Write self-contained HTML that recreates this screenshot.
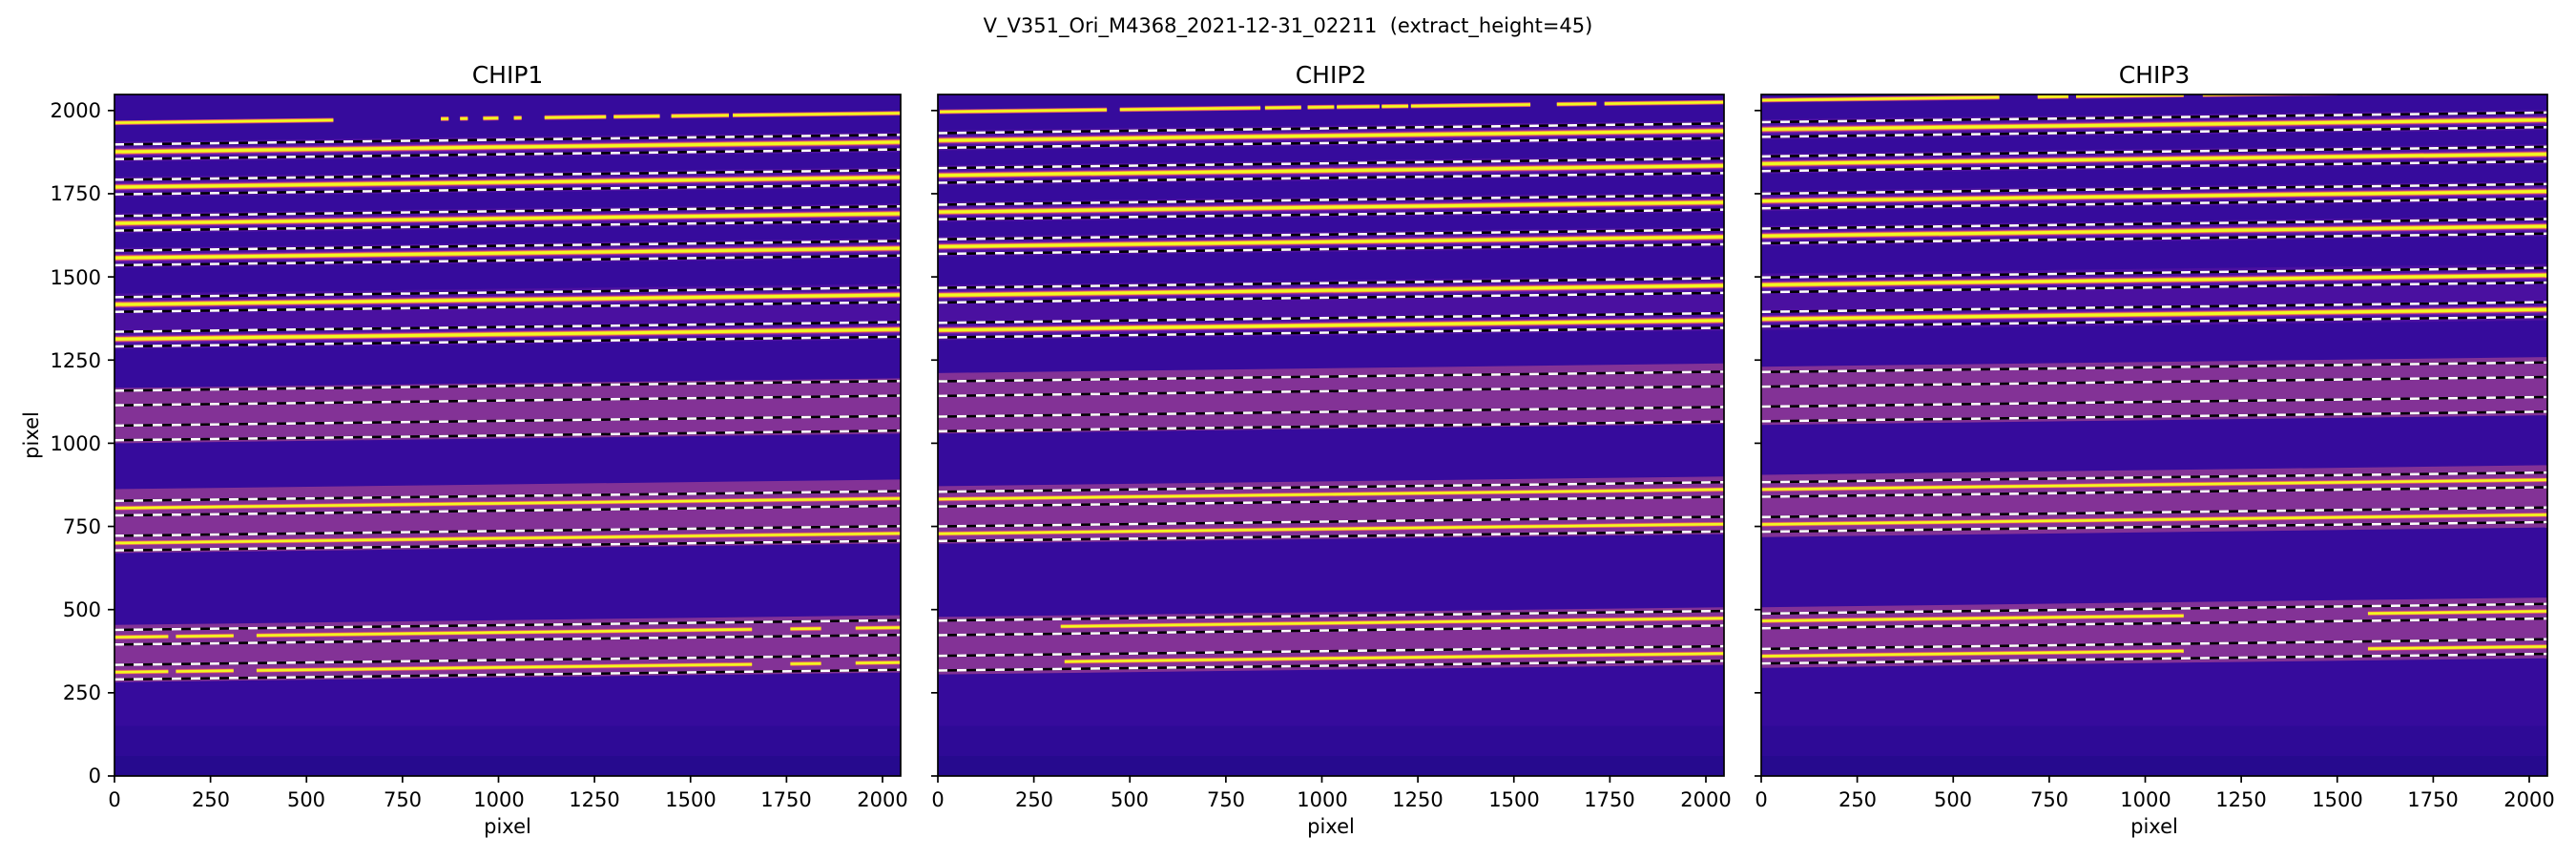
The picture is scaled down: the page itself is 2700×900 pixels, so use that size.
<!DOCTYPE html>
<html><head><meta charset="utf-8">
<style>
html,body{margin:0;padding:0;background:#fff;}
svg{display:block;}
text{font-family:"DejaVu Sans","Liberation Sans",sans-serif;fill:#000;}
</style></head>
<body>
<svg id="s" width="2700" height="900" viewBox="0 0 2700 900" xmlns="http://www.w3.org/2000/svg">
<defs>
<clipPath id="c1"><rect x="120" y="99" width="824" height="714"/></clipPath>
<clipPath id="c2"><rect x="983" y="99" width="824" height="714"/></clipPath>
<clipPath id="c3"><rect x="1846" y="99" width="824" height="714"/></clipPath>
</defs>
<g id="g1" clip-path="url(#c1)"></g>
<g id="g2" clip-path="url(#c2)"></g>
<g id="g3" clip-path="url(#c3)"></g>
<g id="axes"></g>
<text x="1350" y="34" font-size="21" text-anchor="middle" xml:space="preserve" style="white-space:pre">V_V351_Ori_M4368_2021-12-31_02211  (extract_height=45)</text>
<text x="532" y="87" font-size="25" text-anchor="middle">CHIP1</text>
<text x="1395" y="87" font-size="25" text-anchor="middle">CHIP2</text>
<text x="2258" y="87" font-size="25" text-anchor="middle">CHIP3</text>
<text x="532" y="873" font-size="21" text-anchor="middle">pixel</text>
<text x="1395" y="873" font-size="21" text-anchor="middle">pixel</text>
<text x="2258" y="873" font-size="21" text-anchor="middle">pixel</text>
<text transform="translate(40,456) rotate(-90)" font-size="21" text-anchor="middle">pixel</text>
<g font-size="21" text-anchor="end">
<text x="106" y="820">0</text>
<text x="106" y="733">250</text>
<text x="106" y="646">500</text>
<text x="106" y="559">750</text>
<text x="106" y="472">1000</text>
<text x="106" y="385">1250</text>
<text x="106" y="298">1500</text>
<text x="106" y="210">1750</text>
<text x="106" y="123">2000</text>
</g>
<g font-size="21" text-anchor="middle">
<text x="120" y="845">0</text><text x="221" y="845">250</text><text x="321" y="845">500</text><text x="422" y="845">750</text><text x="523" y="845">1000</text><text x="623" y="845">1250</text><text x="724" y="845">1500</text><text x="824" y="845">1750</text><text x="925" y="845">2000</text>
<text x="983" y="845">0</text><text x="1084" y="845">250</text><text x="1184" y="845">500</text><text x="1285" y="845">750</text><text x="1386" y="845">1000</text><text x="1486" y="845">1250</text><text x="1587" y="845">1500</text><text x="1687" y="845">1750</text><text x="1788" y="845">2000</text>
<text x="1846" y="845">0</text><text x="1947" y="845">250</text><text x="2047" y="845">500</text><text x="2148" y="845">750</text><text x="2249" y="845">1000</text><text x="2349" y="845">1250</text><text x="2450" y="845">1500</text><text x="2550" y="845">1750</text><text x="2651" y="845">2000</text>
</g>
</svg>
<script>
var NS="http://www.w3.org/2000/svg";
function el(p,n,a){var e=document.createElementNS(NS,n);for(var k in a)e.setAttribute(k,a[k]);p.appendChild(e);return e;}
var SL=29/2048;
function chip(id,left,d){
  var g=document.getElementById(id);
  function X(u){return left+u*0.4025;}
  function Y(u){return 813-u*0.3486;}
  el(g,"rect",{x:left,y:99,width:824,height:714,fill:"#360b9c"});
  el(g,"rect",{x:left,y:Y(150),width:824,height:Y(60)-Y(150),fill:"#2e0a96"});
  el(g,"rect",{x:left,y:Y(60),width:824,height:Y(0)-Y(60),fill:"#260a8e"});
  function band(lo,hi,col){
    var pts=[[0,lo],[2048,lo+29],[2048,hi+29],[0,hi]].map(function(p){return X(p[0])+","+Y(p[1]);}).join(" ");
    el(g,"polygon",{points:pts,fill:col});
  }
  function line(c,a,b,st,w){
    el(g,"line",{x1:X(a),y1:Y(c+a*SL),x2:X(b),y2:Y(c+b*SL),stroke:st,"stroke-width":w});
  }
  function trace(c,segs,w){
    segs=segs||[[0,2048]];w=w||1;
    segs.forEach(function(s){line(c,s[0],s[1],"#c03a8a",6*w);line(c,s[0],s[1],"#f89a3c",4.5*w);line(c,s[0],s[1],"#f0f921",3*w);});
  }
  function dash(c){
    line(c,0,2048,"#000",2.5);
    el(g,"line",{x1:X(0),y1:Y(c),x2:X(2048),y2:Y(c+29),stroke:"#fff","stroke-width":2.5,"stroke-dasharray":"10,10"});
  }
  d.halo.forEach(function(h){band(h[0],h[1],"#4a10a0");});
  d.boxed.forEach(function(c){band(c-30,c+30,"#4e12a2");band(c-12,c+12,"#6a1ea8");});
  d.pink.forEach(function(p){band(p[0],p[1],"#833296");});
  d.boxed.forEach(function(c){trace(c);});
  d.yel.forEach(function(t){trace(t[0],t[1],0.8);});
  trace(d.top[0],d.top[1],0.8);
  d.boxed.concat(d.orders).forEach(function(c){dash(c+22);dash(c-22);});
}
chip("g1",120,{
  top:[1963,[[0,570],[850,870],[900,920],[960,1000],[1040,1060],[1120,1280],[1300,1420],[1450,1600],[1610,2048]]],
  boxed:[1876,1770,1661,1557,1417,1313],
  halo:[[1285,1450]],
  pink:[[1000,1166],[670,862],[282,454]],
  orders:[1136,1031,805,700,417,312],
  yel:[[805,[[0,2048]]],[700,[[0,2048]]],[417,[[0,140],[160,310],[370,1660],[1760,1840],[1930,2048]]],[312,[[0,140],[160,310],[370,1660],[1760,1840],[1930,2048]]]]
});
chip("g2",983,{
  top:[1996,[[5,440],[474,840],[852,946],[963,1032],[1039,1150],[1156,1225],[1232,1543],[1612,1715],[1736,2048]]],
  boxed:[1910,1805,1695,1591,1445,1340],
  halo:[[1310,1475]],
  pink:[[1029,1211],[698,871],[305,478]],
  orders:[1164,1058,832,728,445,339],
  yel:[[832,[[0,2048]]],[728,[[0,2048]]],[445,[[320,2048]]],[339,[[330,2048]]]]
});
chip("g3",1846,{
  top:[2031,[[0,620],[720,800],[820,1100],[1150,1500]]],
  boxed:[1943,1840,1728,1623,1476,1373],
  halo:[[1340,1510]],
  pink:[[1055,1230],[718,905],[325,507]],
  orders:[1192,1088,861,756,466,360],
  yel:[[861,[[0,2048]]],[756,[[0,2048]]],[466,[[0,1100],[1580,2048]]],[360,[[0,1100],[1580,2048]]]]
});
var ax=document.getElementById("axes");
[120,983,1846].forEach(function(L){
  el(ax,"rect",{x:L,y:99,width:824,height:714,fill:"none",stroke:"#000","stroke-width":1.7});
  for(var i=0;i<=8;i++){
    var y=813-i*250*0.3486, x=L+i*250*0.4025;
    el(ax,"line",{x1:L-7,y1:y,x2:L,y2:y,stroke:"#000","stroke-width":1.7});
    el(ax,"line",{x1:x,y1:813,x2:x,y2:820,stroke:"#000","stroke-width":1.7});
  }
});
</script>
</body></html>
